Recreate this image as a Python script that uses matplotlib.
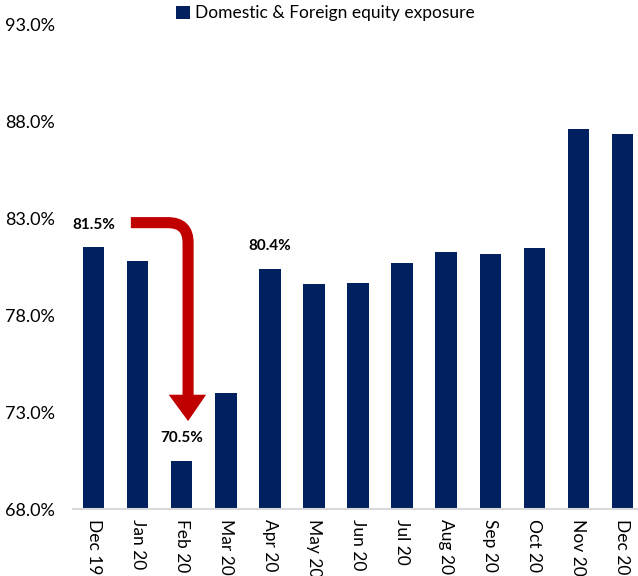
import matplotlib
matplotlib.use("Agg")
import matplotlib.pyplot as plt
from matplotlib.ticker import FuncFormatter

plt.rcParams['font.family'] = ['Lato', 'DejaVu Sans']

categories = ["Dec 19", "Jan 20", "Feb 20", "Mar 20", "Apr 20", "May 20", "Jun 20",
              "Jul 20", "Aug 20", "Sep 20", "Oct 20", "Nov 20", "Dec 20"]
values = [81.5, 80.8, 70.5, 74.0, 80.4, 79.6, 79.65, 80.7, 81.25, 81.15, 81.45, 87.6, 87.35]
labelled = {0: "81.5%", 2: "70.5%", 4: "80.4%"}
series_name = "Domestic & Foreign equity exposure"

bar_color = "#002060"
red = "#C00000"

fig = plt.figure(figsize=(6.38, 5.76), dpi=100)
ax = fig.add_axes([0.114, 0.116, 0.886, 0.842])

x = list(range(len(categories)))
ax.bar(x, values, width=0.48, color=bar_color, label=series_name, zorder=2)

ax.set_ylim(68, 93)
ax.set_xlim(-0.48, 12.36)
ax.set_yticks([68, 73, 78, 83, 88, 93])
ax.yaxis.set_major_formatter(FuncFormatter(lambda v, p: f"{v:.1f}%"))
ax.set_xticks(x)
ax.set_xticklabels(categories, rotation=270, fontsize=12.5)
ax.tick_params(axis='y', length=0, labelsize=13, pad=13)
ax.tick_params(axis='x', length=0, pad=7)
for s in ["top", "right", "left"]:
    ax.spines[s].set_visible(False)
ax.spines["bottom"].set_color("#D9D9D9")
ax.spines["bottom"].set_linewidth(1.5)
ax.spines["bottom"].set_zorder(3)

for i, txt in labelled.items():
    ax.annotate(txt, (i, values[i]), xytext=(0, 11), textcoords="offset points",
                ha="center", va="bottom", fontsize=11, fontweight="bold")

# Red curved arrow
start = (0.84, 82.77)
corner_end = (2.14, 73.88)
ax.annotate("", xy=corner_end, xytext=start,
            arrowprops=dict(arrowstyle="-", color=red, lw=8,
                            connectionstyle="angle,angleA=0,angleB=90,rad=20",
                            shrinkA=0, shrinkB=0, capstyle="butt"),
            zorder=4)
ax.fill([1.70, 2.55, 2.14], [73.9, 73.9, 72.54], color=red, zorder=4, lw=0)

fig.legend(loc="center", bbox_to_anchor=(0.51, 0.977), frameon=False,
           handlelength=0.8, handleheight=0.8, handletextpad=0.3, fontsize=12.5)

fig.savefig("out.png", dpi=100)
